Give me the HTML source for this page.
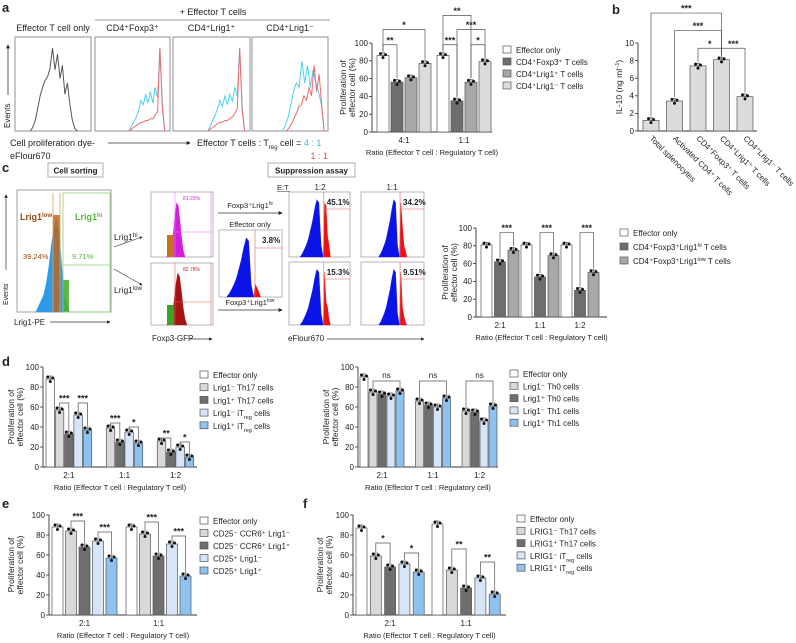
<!DOCTYPE html>
<html><head><meta charset="utf-8"><style>
html,body{margin:0;padding:0;background:#fff;}
svg{display:block;font-family:"Liberation Sans",Arial,sans-serif;}
</style></head><body>
<svg id="fig" width="796" height="643" viewBox="0 0 796 643" xmlns="http://www.w3.org/2000/svg">
<defs>
<marker id="arr" viewBox="0 0 6 6" refX="5" refY="3" markerWidth="5" markerHeight="5" orient="auto"><path d="M0,0 L6,3 L0,6 z" fill="#222"/></marker>
</defs>
<rect x="0" y="0" width="796" height="643" fill="#fff"/>
</svg>
<script>
// ---------- chart data ----------
const aCats=['4:1','1:1'];
const aEff=[86,86];
const aFox=[56,35];
const aLp=[61,56];
const aLm=[77,79];
const aLegend=['Effector only','CD4⁺Foxp3⁺ T cells','CD4⁺Lrig1⁺ T cells','CD4⁺Lrig1⁻ T cells'];

const bCats=['Total splenocytes','Activated CD4⁺ T cells','CD4⁺Foxp3⁺ T cells','CD4⁺Lrig1⁺ T cells','CD4⁺Lrig1⁻ T cells'];
const bVals=[1.2,3.4,7.4,8.1,3.9];
const bTicks=[0,2,4,6,8,10];

const cCats=['2:1','1:1','1:2'];
const cEff=[81,81,81];
const cHi=[62,45,30];
const cLow=[75,69,50];
const cLegend=['Effector only','CD4⁺Foxp3⁺Lrig1<tspan baseline-shift="super" font-size="5.5">hi</tspan> T cells','CD4⁺Foxp3⁺Lrig1<tspan baseline-shift="super" font-size="5.5">low</tspan> T cells'];

const dCats=['2:1','1:1','1:2'];
const dEff=[88,null,null];
const dTh17m=[57,39,26];
const dTh17p=[33,25,15];
const dItm=[52,35,20];
const dItp=[37,24,10];
const dLegend=['Effector only','Lrig1⁻ Th17 cells','Lrig1⁺ Th17 cells','Lrig1⁻ iT<tspan baseline-shift="sub" font-size="5.5">reg</tspan> cells','Lrig1⁺ iT<tspan baseline-shift="sub" font-size="5.5">reg</tspan> cells'];

const d2Eff=[90,null,null];
const d2Th0m=[75,66,56];
const d2Th0p=[73,62,55];
const d2Th1m=[71,60,46];
const d2Th1p=[76,69,61];
const d2Legend=['Effector only','Lrig1⁻ Th0 cells','Lrig1⁺ Th0 cells','Lrig1⁻ Th1 cells','Lrig1⁺ Th1 cells'];

const eCats=['2:1','1:1'];
const eEff=[88,88];
const eCcrM=[84,81];
const eCcrP=[68,59];
const e25M=[74,71];
const e25P=[57,39];
const eLegend=['Effector only','CD25⁻ CCR6⁺ Lrig1⁻','CD25⁻ CCR6⁺ Lrig1⁺','CD25⁺ Lrig1⁻','CD25⁺ Lrig1⁺'];

const fCats=['2:1','1:1'];
const fEff=[87,91];
const fTh17m=[59,45];
const fTh17p=[48,27];
const fItm=[51,37];
const fItp=[43,21];
const fLegend=['Effector only','LRIG1⁻ Th17 cells','LRIG1⁺ Th17 cells','LRIG1⁻ iT<tspan baseline-shift="sub" font-size="5.5">reg</tspan> cells','LRIG1⁺ iT<tspan baseline-shift="sub" font-size="5.5">reg</tspan> cells'];

const pctTicks=[0,20,40,60,80,100];

// ---------- helpers ----------
const NS='http://www.w3.org/2000/svg';
const svg=document.getElementById('fig');
function mk(tag,attrs,parent,name,inter){
  const e=document.createElementNS(NS,tag);
  for(const k in attrs) e.setAttribute(k,attrs[k]);
  
  
  (parent||svg).appendChild(e);
  return e;
}
function T(x,y,s,size,name,opt,parent){
  opt=opt||{};
  const a={x:x,y:y,'font-size':size,fill:opt.fill||'#222'};
  if(opt.anchor) a['text-anchor']=opt.anchor;
  if(opt.weight) a['font-weight']=opt.weight;
  if(opt.transform) a.transform=opt.transform;
  const e=mk('text',a,parent,name,false);
  e.innerHTML=s;
  return e;
}
function L(x1,y1,x2,y2,name,opt,parent){
  opt=opt||{};
  const a={x1:x1,y1:y1,x2:x2,y2:y2,stroke:opt.stroke||'#333','stroke-width':opt.w||0.8};
  if(opt.arrow) a['marker-end']='url(#arr)';
  return mk('line',a,parent,name,false);
}
const COLS5=['#ffffff','#d9d9d9','#6e6e6e','#d6e6f8','#8ec2f0'];

function barChart(c){
  const g=mk('g',{},svg,c.name,false);
  const Y=v=>c.y0-v/c.ymax*(c.y0-c.yTop);
  const X=(gi,bi)=>c.first+gi*c.gstep+bi*c.slot;
  L(c.x0,c.y0,c.x0,c.yTop,'y-axis',{w:0.9},g);
  L(c.x0,c.y0,c.xEnd,c.y0,'x-axis',{w:0.9},g);
  c.ticks.forEach(t=>{
    L(c.x0-3,Y(t),c.x0,Y(t),'y-tick',{w:0.8},g);
    T(c.x0-4,Y(t)+2.8,String(t),8,'y-tick-label',{anchor:'end'},g);
  });
  c.series.forEach((s,bi)=>{
    s.forEach((v,gi)=>{
      if(v==null) return;
      const x=X(gi,bi), cx=x+c.w/2, e=c.ymax*0.03;
      mk('rect',{x:x,y:Y(v),width:c.w,height:c.y0-Y(v),fill:c.colors[bi],stroke:'#555','stroke-width':0.7},g,'bar-'+bi+'-'+gi,false);
      L(cx,Y(v+e),cx,Y(v-e),'error-bar',{w:0.6,stroke:'#444'},g);
      L(cx-2,Y(v+e),cx+2,Y(v+e),'error-cap',{w:0.6,stroke:'#444'},g);
      [[-2.5,0.02],[0,-0.025],[2.5,0.01]].forEach(d=>{
        mk('circle',{cx:cx+d[0],cy:Y(v+d[1]*c.ymax),r:1.5,fill:'#111'},g,'data-point',false);
      });
    });
  });
  if(c.cats){
    c.cats.forEach((cat,gi)=>{
      let mn=1e9,mx=-1e9;
      c.series.forEach((s,bi)=>{ if(s[gi]!=null){ mn=Math.min(mn,X(gi,bi)); mx=Math.max(mx,X(gi,bi)+c.w);} });
      T((mn+mx)/2,c.y0+11,cat,8,'x-tick-label',{anchor:'middle'},g);
    });
    T((c.x0+c.xEnd)/2,c.y0+23,c.xTitle,7.5,'x-axis-title',{anchor:'middle'},g);
  }
  const ym=(c.y0+c.yTop)/2;
  if(c.yTitle2){
    T(c.yTx,ym,c.yTitle,8.5,'y-axis-title',{anchor:'middle',transform:'rotate(-90 '+c.yTx+' '+ym+')'},g);
    T(c.yTx+9,ym,c.yTitle2,8.5,'y-axis-title',{anchor:'middle',transform:'rotate(-90 '+(c.yTx+9)+' '+ym+')'},g);
  } else {
    T(c.yTx,ym,c.yTitle,8.5,'y-axis-title',{anchor:'middle',transform:'rotate(-90 '+c.yTx+' '+ym+')'},g);
  }
  if(c.legend){
    c.legend.forEach((lab,i)=>{
      const ly=c.ly+i*c.lstep;
      mk('rect',{x:c.lx,y:ly-7,width:8,height:7,fill:c.colors[i],stroke:'#555','stroke-width':0.7},g,'legend-swatch',false);
      T(c.lx+13,ly,lab,8,'legend-entry',{},g);
    });
  }
  (c.sig||[]).forEach(s=>{
    const a=s[1], b=s[2];
    const xa=X(a[0],a[1])+c.w/2, xb=X(b[0],b[1])+c.w/2, yl=Y(s[3]);
    const ya=Y(c.series[a[1]][a[0]])-4, yb=Y(c.series[b[1]][b[0]])-4;
    mk('path',{d:'M'+xa+','+Math.max(ya,yl+3)+' L'+xa+','+yl+' L'+xb+','+yl+' L'+xb+','+Math.max(yb,yl+3),fill:'none',stroke:'#555','stroke-width':0.7},g,'significance-bracket',false);
    T((xa+xb)/2,yl-(s[0]==='ns'?3:1.5),s[0],s[0]==='ns'?8:9,'significance-label',{anchor:'middle',weight:s[0]==='ns'?'normal':'bold'},g);
  });
  return g;
}

const XT='Ratio (Effector T cell : Regulatory T cell)';
// ---------- bar charts ----------
barChart({name:'chart-a',x0:372,xEnd:492,y0:132,yTop:43,ymax:100,ticks:pctTicks,first:377,slot:14,w:12,gstep:60,
  series:[aEff,aFox,aLp,aLm],colors:['#fff','#6e6e6e','#a8a8a8','#dcdcdc'],cats:aCats,xTitle:XT,
  yTx:346,yTitle:'Proliferation of',yTitle2:'effector cell (%)',legend:aLegend,lx:503,ly:53,lstep:12,
  sig:[['**',[0,0],[0,1],98],['*',[0,0],[0,3],115],['***',[1,0],[1,1],98],['*',[1,2],[1,3],98],['***',[1,1],[1,3],115],['**',[1,0],[1,2],131]]});

barChart({name:'chart-b',x0:638,xEnd:757,y0:131,yTop:43,ymax:10,ticks:bTicks,first:643,slot:23.5,w:16,gstep:0,
  series:bVals.map(v=>[v]),colors:['#dcdcdc','#dcdcdc','#dcdcdc','#dcdcdc','#dcdcdc'],
  yTx:622,yTitle:'IL-10 (ng ml<tspan baseline-shift="super" font-size="5.5">−1</tspan>)',
  sig:[['*',[0,2],[0,3],9.4],['***',[0,3],[0,4],9.4],['***',[0,1],[0,3],11.4],['***',[0,0],[0,3],13.4]]});
bCats.forEach((lab,i)=>{
  const x=643+i*23.5+6, y=139;
  T(x,y,lab,8,'x-tick-label-b',{transform:'rotate(45 '+x+' '+y+')'});
});

barChart({name:'chart-c',x0:476,xEnd:607,y0:317,yTop:228,ymax:100,ticks:pctTicks,first:481,slot:13.5,w:11,gstep:40,
  series:[cEff,cHi,cLow],colors:['#fff','#6e6e6e','#a8a8a8'],cats:cCats,xTitle:XT,
  yTx:448,yTitle:'Proliferation of',yTitle2:'effector cell (%)',legend:cLegend,lx:620,ly:236,lstep:14,
  sig:[['***',[0,1],[0,2],95],['***',[1,1],[1,2],95],['***',[2,1],[2,2],95]]});

barChart({name:'chart-d-th17',x0:43,xEnd:197,y0:467,yTop:367,ymax:100,ticks:pctTicks,first:46,slot:9.3,w:8.5,gstep:51,
  series:[dEff,dTh17m,dTh17p,dItm,dItp],colors:COLS5,cats:dCats,xTitle:XT,
  yTx:14,yTitle:'Proliferation of',yTitle2:'effector cell (%)',legend:dLegend,lx:200,ly:378,lstep:12.7,
  sig:[['***',[0,1],[0,2],64],['***',[0,3],[0,4],64],['***',[1,1],[1,2],44],['*',[1,3],[1,4],40],['**',[2,1],[2,2],29],['*',[2,3],[2,4],25]]});

barChart({name:'chart-d-th1',x0:358,xEnd:498,y0:467,yTop:367,ymax:100,ticks:pctTicks,first:360,slot:9,w:8,gstep:46.5,
  series:[d2Eff,d2Th0m,d2Th0p,d2Th1m,d2Th1p],colors:COLS5,cats:dCats,xTitle:'Ratio (Effector T cell : Regulatory cell)',
  yTx:329,yTitle:'Proliferation of',yTitle2:'effector cell (%)',legend:d2Legend,lx:510,ly:377,lstep:12.3,
  sig:[['ns',[0,1],[0,4],86],['ns',[1,1],[1,4],86],['ns',[2,1],[2,4],86]]});

barChart({name:'chart-e',x0:49,xEnd:197,y0:615,yTop:515,ymax:100,ticks:pctTicks,first:52,slot:13.5,w:11,gstep:74,
  series:[eEff,eCcrM,eCcrP,e25M,e25P],colors:COLS5,cats:eCats,xTitle:XT,
  yTx:14,yTitle:'Proliferation of',yTitle2:'effector cell (%)',legend:eLegend,lx:200,ly:524,lstep:12.5,
  sig:[['***',[0,1],[0,2],94],['***',[0,3],[0,4],83],['***',[1,1],[1,2],93],['***',[1,3],[1,4],79]]});

barChart({name:'chart-f',x0:353,xEnd:506,y0:615,yTop:515,ymax:100,ticks:pctTicks,first:356,slot:14.3,w:11,gstep:76,
  series:[fEff,fTh17m,fTh17p,fItm,fItp],colors:COLS5,cats:fCats,xTitle:XT,
  yTx:323,yTitle:'Proliferation of',yTitle2:'effector cell (%)',legend:fLegend,lx:517,ly:522,lstep:12.3,
  sig:[['*',[0,1],[0,2],72],['*',[0,3],[0,4],62],['**',[1,1],[1,2],66],['**',[1,3],[1,4],53]]});

// ---------- panel letters ----------
[['a',2,12],['b',612,14],['c',2,172],['d',2,366],['e',2,508],['f',303,508]].forEach(p=>{
  T(p[1],p[2],p[0],13,'panel-label-'+p[0],{weight:'bold'});
});

// ---------- flow histograms (panel a) ----------
const hEffOnly=[0,.04,.12,.25,.4,.5,.58,.62,.72,.95,.7,.88,.6,.75,.42,.55,.3,.12,.03,0];
const hBlueFox=[0,.05,.1,.15,.22,.35,.3,.42,.32,.45,.32,.5,.38,.95,.3,0];
const hRedFox=[0,.02,.04,.06,.08,.1,.1,.12,.12,.14,.14,.18,.22,.95,.25,0];
const hBlueLp=[0,.05,.12,.18,.25,.35,.28,.4,.3,.42,.34,.5,.4,.95,.3,0];
const hRedLp=[0,.02,.04,.06,.08,.1,.1,.12,.12,.14,.16,.2,.25,.95,.25,0];
const hBlueLm=[0,.06,.15,.3,.45,.55,.5,.8,.55,.75,.5,.7,.55,.45,.3,0];
const hRedLm=[0,.03,.08,.14,.2,.28,.3,.4,.35,.5,.4,.75,.45,.65,.3,0];

function hist(box,hs,f0,f1,color,fill,name){
  const w=box[2]-box[0], h=box[3]-box[1];
  let d='';
  hs.forEach((v,i)=>{
    const x=box[0]+w*(f0+(f1-f0)*i/(hs.length-1)), y=box[3]-v*h*0.93;
    d+=(i?'L':'M')+x.toFixed(1)+','+y.toFixed(1);
  });
  if(fill){ d+='L'+(box[0]+w*f1)+','+box[3]+'L'+(box[0]+w*f0)+','+box[3]+'Z'; }
  return mk('path',{d:d,fill:fill?color:'none',stroke:color,'stroke-width':fill?0.3:1},svg,name,false);
}
const aBoxes=[[15,37,91,131],[95,37,170,131],[173,37,250,131],[252,37,328,131]];
const aTitles=['Effector T cell only','CD4⁺Foxp3⁺','CD4⁺Lrig1⁺','CD4⁺Lrig1⁻'];
aBoxes.forEach((b,i)=>{
  mk('rect',{x:b[0],y:b[1],width:b[2]-b[0],height:b[3]-b[1],fill:'#fff',stroke:'#777','stroke-width':0.8},svg,'histogram-frame',false);
  T((b[0]+b[2])/2,31,aTitles[i],9,'histogram-title',{anchor:'middle'});
});
hist(aBoxes[0],hEffOnly,0.2,0.82,'#555',false,'effector-only-histogram');
hist(aBoxes[1],hBlueFox,0.45,0.93,'#4fd0f5',false,'foxp3-4to1-histogram');
hist(aBoxes[1],hRedFox,0.45,0.93,'#f26a6a',false,'foxp3-1to1-histogram');
hist(aBoxes[2],hBlueLp,0.45,0.93,'#4fd0f5',false,'lrig1pos-4to1-histogram');
hist(aBoxes[2],hRedLp,0.45,0.93,'#f26a6a',false,'lrig1pos-1to1-histogram');
hist(aBoxes[3],hBlueLm,0.4,0.95,'#4fd0f5',false,'lrig1neg-4to1-histogram');
hist(aBoxes[3],hRedLm,0.45,0.95,'#f26a6a',false,'lrig1neg-1to1-histogram');
T(213,15,'+ Effector T cells',9,'effector-header',{anchor:'middle'});
L(95,20,330,20,'effector-header-line',{stroke:'#999',w:1});
T(10,128,'Events',8,'events-label',{transform:'rotate(-90 10 128)'});
L(8,95,8,45,'events-arrow',{arrow:true,w:0.8});
T(10,146,'Cell proliferation dye-',9,'x-dye-label');
T(10,159,'eFlour670',9,'x-dye-label-2');
L(108,143,190,143,'dye-arrow',{arrow:true,w:0.8});
T(197,146,'Effector T cells : T<tspan baseline-shift="sub" font-size="6">reg</tspan> cell = <tspan fill="#33b8f0">4 : 1</tspan>',9,'ratio-legend');
T(328,159,'1 : 1',9,'ratio-legend-red',{fill:'#f0484a',anchor:'end'});

// ---------- panel c flow ----------
mk('rect',{x:48,y:163,width:55,height:14,fill:'#fff',stroke:'#999','stroke-width':0.8},svg,'cell-sorting-box',false);
T(75.5,173.5,'Cell sorting',8,'cell-sorting-title',{anchor:'middle',weight:'bold'});
mk('rect',{x:268,y:163,width:87,height:14,fill:'#fff',stroke:'#999','stroke-width':0.8},svg,'suppression-assay-box',false);
T(311.5,173.5,'Suppression assay',8,'suppression-title',{anchor:'middle',weight:'bold'});

const hSort=[0,.05,.1,.15,.25,.4,.6,.75,.82,.7,.4,.15,.05,0];
const boxSort=[17,190,111,312];
mk('rect',{x:17,y:190,width:94,height:122,fill:'#fff',stroke:'#888','stroke-width':0.8},svg,'sorting-histogram-frame',false);
hist(boxSort,hSort,0.2,0.56,'#2f9be8',true,'sorting-histogram');
mk('rect',{x:53,y:215,width:7,height:97,fill:'#b86a1e',opacity:0.85},svg,'lrig1-low-gate-fill',false);
mk('rect',{x:63,y:280,width:6,height:32,fill:'#4caf2a',opacity:0.9},svg,'lrig1-hi-gate-fill',false);
L(53,193,53,312,'low-gate-line',{stroke:'#e39a5a'});
L(60,193,60,312,'low-gate-line',{stroke:'#e39a5a'});
mk('rect',{x:63,y:193,width:47,height:119,fill:'none',stroke:'#8fd07a','stroke-width':0.8},svg,'hi-gate',false);
L(63,265,110,265,'hi-gate-line',{stroke:'#8fd07a'});
T(20,220,'Lrig1<tspan baseline-shift="super" font-size="6">low</tspan>',9,'lrig1-low-label',{fill:'#9a4a10',weight:'bold'});
T(75,220,'Lrig1<tspan baseline-shift="super" font-size="6">hi</tspan>',9,'lrig1-hi-label',{fill:'#58b33a',weight:'bold'});
T(23,259,'39.24%',7.5,'lrig1-low-pct',{fill:'#9a4a10'});
T(72,259,'9.71%',7.5,'lrig1-hi-pct',{fill:'#58b33a'});
T(8,305,'Events',7,'events-label-c',{transform:'rotate(-90 8 305)'});
L(6,270,6,195,'events-arrow-c',{arrow:true,w:0.7});
T(14,325,'Lrig1-PE',8,'lrig1-pe-label');
L(50,322,110,322,'pe-arrow',{arrow:true,w:0.7});
T(114,240,'Lrig1<tspan baseline-shift="super" font-size="6">hi</tspan>',8.5,'lrig1-hi-row');
T(114,293,'Lrig1<tspan baseline-shift="super" font-size="6">low</tspan>',8.5,'lrig1-low-row');
L(114,247,142,237,'to-hi-arrow',{arrow:true,w:0.6});
L(114,269,142,285,'to-low-arrow',{arrow:true,w:0.6});

const hFox=[0,.05,.1,.2,.4,.7,.9,.85,.6,.3,.1,0];
const bTop=[151,192,213,257], bBot=[151,263,213,325];
[bTop,bBot].forEach(b=>mk('rect',{x:b[0],y:b[1],width:b[2]-b[0],height:b[3]-b[1],fill:'#fff',stroke:'#999','stroke-width':0.7},svg,'foxp3-frame',false));
hist(bTop,hFox,0.25,0.55,'#d21fdc',true,'foxp3-hi-histogram');
mk('rect',{x:167,y:235,width:7,height:22,fill:'#c77220'},svg,'foxp3-neg-hi',false);
hist(bBot,hFox,0.25,0.58,'#a51313',true,'foxp3-low-histogram');
mk('rect',{x:167,y:305,width:7,height:20,fill:'#3ba32a'},svg,'foxp3-neg-low',false);
L(175,192,175,257,'gate',{stroke:'#e07ae8',w:0.6});L(211,192,211,257,'gate',{stroke:'#e07ae8',w:0.6});L(175,232,211,232,'gate',{stroke:'#e07ae8',w:0.6});
L(175,263,175,325,'gate',{stroke:'#e06060',w:0.6});L(211,263,211,325,'gate',{stroke:'#e06060',w:0.6});L(175,302,211,302,'gate',{stroke:'#e06060',w:0.6});
T(183,200,'81.23%',5,'foxp3-hi-pct',{fill:'#d21fdc'});
T(183,271,'82.78%',5,'foxp3-low-pct',{fill:'#d02020'});
T(152,341,'Foxp3-GFP',8,'foxp3-gfp-label');
L(190,339,212,339,'gfp-arrow',{arrow:true,w:0.7});

const hSup=[0,.05,.12,.2,.3,.45,.6,.8,.95,.9,.2,0];
const hSupRed=[0,.9,.75,.4,.3,.15,0];
const effBox=[219,230,282,297];
mk('rect',{x:219,y:230,width:63,height:67,fill:'#fff',stroke:'#999','stroke-width':0.7},svg,'effector-only-frame',false);
hist(effBox,hSup,0.12,0.55,'#0a14e6',true,'effector-only-blue');
hist(effBox,[0,.2,.15,.08,0],0.55,0.66,'#f01010',true,'effector-only-red');
L(255,230,255,297,'gate',{stroke:'#e06060',w:0.6});L(255,248,282,248,'gate',{stroke:'#e06060',w:0.6});
T(262,243,'3.8%',8,'effector-only-pct',{weight:'bold'});
T(250,227,'Effector only',7.5,'effector-only-title',{anchor:'middle'});
L(218,213,282,213,'hi-arrow',{arrow:true,w:0.8});
T(250,208,'Foxp3⁺Lrig1<tspan baseline-shift="super" font-size="5">hi</tspan>',7.5,'foxp3-lrig1hi-label',{anchor:'middle'});
L(218,310,282,310,'low-arrow',{arrow:true,w:0.8});
T(250,305,'Foxp3⁺Lrig1<tspan baseline-shift="super" font-size="5">low</tspan>',7.5,'foxp3-lrig1low-label',{anchor:'middle'});

const supBoxes=[[289,192,350,257],[361,192,424,257],[289,262,350,325],[361,262,424,325]];
const supPct=['45.1%','34.2%','15.3%','9.51%'];
const supRedH=[[0,.9,.85,.35,.2,0],[0,.9,.5,.2,.1,0],[0,.9,.4,.3,.1,0],[0,.9,.3,.15,.05,0]];
supBoxes.forEach((b,i)=>{
  mk('rect',{x:b[0],y:b[1],width:b[2]-b[0],height:b[3]-b[1],fill:'#fff',stroke:'#999','stroke-width':0.7},svg,'suppression-frame',false);
  hist(b,hSup,0.18+(i%2)*0.1,0.56+(i%2)*0.05,'#0a14e6',true,'suppression-blue');
  const r0=0.56+(i%2)*0.05;
  hist(b,supRedH[i],r0,r0+0.12,'#f01010',true,'suppression-red');
  const gx=b[0]+(b[2]-b[0])*(r0+0.01);
  L(gx,b[1],gx,b[3],'gate',{stroke:'#e06060',w:0.6});
  L(gx,b[1]+17,b[2],b[1]+17,'gate',{stroke:'#e06060',w:0.6});
  T(gx+3,b[1]+13,supPct[i],8,'suppression-pct',{weight:'bold'});
});
T(277,190,'E:T',7.5,'et-label');
L(277,191.5,290,191.5,'et-underline',{w:0.5});
T(320,190,'1:2',8,'ratio-1to2',{anchor:'middle'});
T(392,190,'1:1',8,'ratio-1to1',{anchor:'middle'});
T(288,341,'eFlour670',8,'eflour-label');
L(327,339,424,339,'eflour-arrow',{arrow:true,w:0.7});
</script>
</body></html>
